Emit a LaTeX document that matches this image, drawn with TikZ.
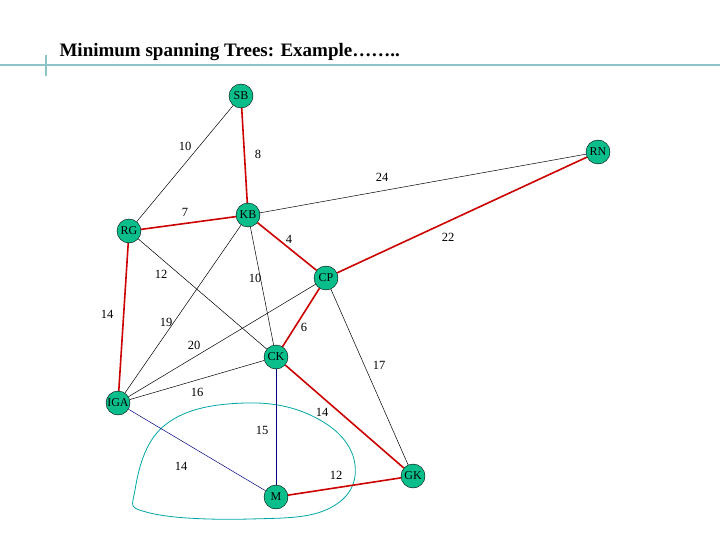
\documentclass[tikz,border=0pt]{standalone}
\usepackage{fontspec}
\setmainfont{Liberation Serif}
\usetikzlibrary{backgrounds}
\begin{document}
\begin{tikzpicture}[x=1pt,y=-1pt,
  v/.style={circle,draw=black,fill=nodec,minimum size=24pt,inner sep=0pt,font=\fontsize{12}{12}\selectfont},
  tr/.style={red!80!black,line width=1.6pt},
  bl/.style={black,line width=0.5pt},
  bu/.style={blue!50!black,line width=0.5pt},
  lb/.style={font=\fontsize{12.5}{12.5}\selectfont}]
\definecolor{tl}{RGB}{140,195,200}
\definecolor{nodec}{RGB}{10,190,140}
\useasboundingbox (0,0) rectangle (720,540);
\draw[tl,line width=2pt] (0,65) -- (720,65);
\draw[tl,line width=1.2pt] (46,55) -- (46,76);
\node[anchor=base west,font=\bfseries\fontsize{19}{19}\selectfont] (t) at (56,57) {Minimum spanning Trees: Example……..};
\begin{scope}[every node/.style={v}]
\node (SB) at (241,96) {SB};
\node (RN) at (598,152) {RN};
\node (RG) at (129,231) {RG};
\node (KB) at (248,215) {KB};
\node (CP) at (326,278) {CP};
\node (CK) at (276,357) {CK};
\node (IGA) at (118,403) {IGA};
\node (GK) at (413,476) {GK};
\node (M) at (276,497) {M};
\end{scope}
\begin{scope}[on background layer]
\draw[teal!70!cyan,line width=0.8pt] plot[smooth cycle,tension=0.7] coordinates {(135,490) (165,425) (245,403) (320,420) (355,465) (330,508) (250,519) (150,513)};
\draw[bl] (SB) -- (RG);
\draw[tr] (SB) -- (KB);
\draw[bl] (RN) -- (KB);
\draw[tr] (RN) -- (CP);
\draw[tr] (RG) -- (KB);
\draw[tr] (KB) -- (CP);
\draw[bl] (RG) -- (CK);
\draw[bl] (KB) -- (CK);
\draw[bl] (KB) -- (IGA);
\draw[tr] (RG) -- (IGA);
\draw[bl] (CP) -- (IGA);
\draw[tr] (CP) -- (CK);
\draw[bl] (CP) -- (GK);
\draw[bl] (CK) -- (IGA);
\draw[tr] (CK) -- (GK);
\draw[bu] (CK) -- (M);
\draw[bu] (IGA) -- (M);
\draw[tr] (M) -- (GK);
\end{scope}
\node[lb] (l1) at (185,146) {10};
\node[lb] (l2) at (258,154) {8};
\node[lb] (l3) at (382,177) {24};
\node[lb] (l4) at (448,237) {22};
\node[lb] (l5) at (185,212) {7};
\node[lb] (l6) at (289,239) {4};
\node[lb] (l7) at (161,274) {12};
\node[lb] (l8) at (255,278) {10};
\node[lb] (l9) at (166,322) {19};
\node[lb] (l10) at (107,314) {14};
\node[lb] (l11) at (194,345) {20};
\node[lb] (l12) at (304,327) {6};
\node[lb] (l13) at (379,365) {17};
\node[lb] (l14) at (197,392) {16};
\node[lb] (l15) at (322,412) {14};
\node[lb] (l16) at (262,430) {15};
\node[lb] (l17) at (181,466) {14};
\node[lb] (l18) at (336,475) {12};
\end{tikzpicture}
\end{document}
